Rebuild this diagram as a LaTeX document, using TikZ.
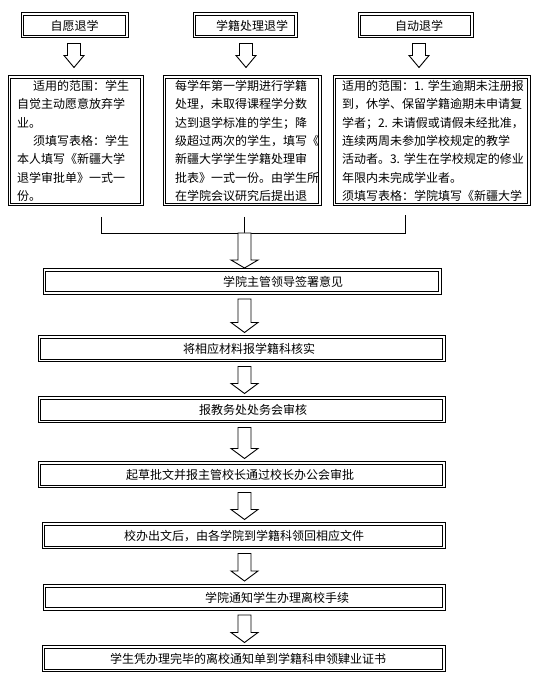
\documentclass[tikz,border=0pt]{standalone}
\usepackage{fontspec}
\setmainfont{Noto Sans CJK SC}
\usetikzlibrary{calc}

% hollow block arrow: start, tip, shaft half width, head half width, head length
\newcommand{\hollowarrow}[5]{%
  \draw[line width=0.9pt, fill=white] ($(#1)+(-#3,0)$) -- ($(#1)+(#3,0)$) -- ($(#2)+(#3,#5)$) -- ($(#2)+(#4,#5)$)
    -- (#2) -- ($(#2)+(-#4,#5)$) -- ($(#2)+(-#3,#5)$) -- cycle;}

\begin{document}
\begin{tikzpicture}[x=1pt, y=1pt,
    dblbox/.style={draw, line width=1pt, align=left,
      font=\fontsize{12}{18.3}\selectfont,
      path picture={\draw[line width=1pt] ([shift={(2.6pt,2.6pt)}]path picture bounding box.south west)
        rectangle ([shift={(-2.6pt,-2.6pt)}]path picture bounding box.north east);}},
    titlebox/.style={dblbox, align=center, minimum height=25pt, inner xsep=0pt},
    rulebox/.style={dblbox, minimum height=130pt, inner xsep=9pt},
    stepbox/.style={dblbox, minimum height=26pt, inner xsep=0pt, inner ysep=0pt},
  ]
    \useasboundingbox (0,0) rectangle (537,682);

    % three kinds of withdrawal
    \node[titlebox, minimum width=107pt] (t1) at (74.5,656.5) {自愿退学};
    \node[titlebox, minimum width=104pt] (t2) at (245,656.5) {\hspace*{14pt}学籍处理退学};
    \node[titlebox, minimum width=115pt] (t3) at (415.5,656.5) {\hspace*{7pt}自动退学};

    \node[rulebox, text width=117pt] (b1) at (75.5,541)
      {\hspace*{16pt}适用的范围：学生\\自觉主动愿意放弃学\\业。\\\hspace*{16pt}须填写表格：学生\\本人填写《新疆大学\\退学审批单》一式一\\份。};
    \node[rulebox, inner xsep=12pt, text width=134pt] (b2) at (242,541)
      {每学年第一学期进行学籍\\处理，未取得课程学分数\\达到退学标准的学生；降\\级超过两次的学生，填写《\\新疆大学学生学籍处理审\\批表》一式一份。由学生所\\在学院会议研究后提出退};
    \node[rulebox, text width=179pt] (b3) at (431.5,541)
      {适用的范围：1.~学生逾期未注册报\\到，休学、保留学籍逾期未申请复\\学者；2.~未请假或请假未经批准，\\连续两周未参加学校规定的教学\\活动者。3.~学生在学校规定的修业\\年限内未完成学业者。\\须填写表格：学院填写《新疆大学};

    \foreach \i/\x in {1/74,2/246,3/419} {
        \coordinate (u\i) at ($(\x,0 |- t\i.south)+(0,-5)$);
        \coordinate (v\i) at ($(\x,0 |- b\i.north)+(0,8)$);
        \hollowarrow{u\i}{v\i}{6.5}{10}{12}
    }

    % common steps
    \node[stepbox, text width=398pt] (r1) at (242,400.5) {\hspace*{180pt}学院主管领导签署意见};
    \node[stepbox, text width=407pt] (r2) at (241.5,333) {\hspace*{145pt}将相应材料报学籍科核实};
    \node[stepbox, text width=407pt] (r3) at (241.5,272) {\hspace*{161pt}报教务处处务会审核};
    \node[stepbox, text width=407pt] (r4) at (241.5,207) {\hspace*{88pt}起草批文并报主管校长通过校长办公会审批};
    \node[stepbox, text width=403pt] (r5) at (243.5,146) {\hspace*{82pt}校办出文后，由各学院到学籍科领回相应文件};
    \node[stepbox, text width=402pt] (r6) at (244,84.5) {\hspace*{162pt}学院通知学生办理离校手续};
    \node[stepbox, text width=403pt] (r7) at (243.5,23) {\hspace*{68pt}学生凭办理完毕的离校通知单到学籍科申领肄业证书};

    % joining lines
    \coordinate (ax) at (244.5,449);
    \coordinate (j1) at (101,449);
    \coordinate (j3) at (405,449);
    \coordinate (c1) at (101,465);
    \coordinate (c2) at (244.5,465);
    \coordinate (c3) at (405,467);
    \draw[line width=0.9pt] (c1) -- (j1) -- (j3) -- (c3);
    \draw[line width=0.9pt] (c2) -- (ax);

    \coordinate (w1) at (ax |- r1.north);
    \hollowarrow{ax}{w1}{6.5}{13.5}{8}
    \foreach \a/\b in {r1/r2, r2/r3, r3/r4, r4/r5, r5/r6, r6/r7} {
        \coordinate (s) at ($(ax |- \a.south)+(0,-4)$);
        \coordinate (e) at ($(ax |- \b.north)+(0,3)$);
        \hollowarrow{s}{e}{6.5}{13.5}{10}
    }
\end{tikzpicture}
\end{document}
